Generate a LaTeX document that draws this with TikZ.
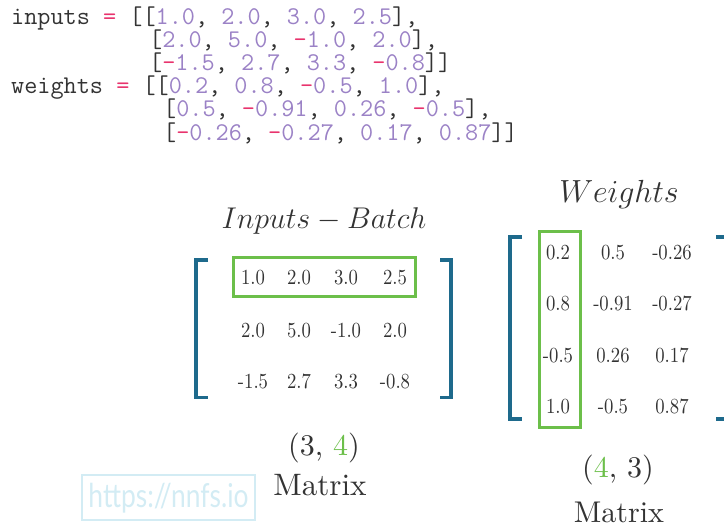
\documentclass[tikz,border=0pt]{standalone}
\usepackage{fix-cm}
\usepackage{fontspec}
\setmainfont{lmroman10-regular}[Extension=.otf, ItalicFont=lmroman10-italic]
\newfontfamily\wmfont{Lato}
\definecolor{codenum}{HTML}{9B82C6}
\definecolor{codepink}{HTML}{E8336D}
\definecolor{codetxt}{HTML}{333333}
\definecolor{mtxt}{HTML}{333333}
\definecolor{hlgreen}{HTML}{6CBF4A}
\definecolor{brblue}{HTML}{1E6A8C}
\definecolor{wmcyan}{HTML}{D3ECF4}
\newcommand\cN[1]{\textcolor{codenum}{#1}}
\newcommand\cP[1]{\textcolor{codepink}{#1}}
\newcommand\ent[1]{\scalebox{0.87}[1]{#1}}
\tikzset{
  codeline/.style={anchor=base west, inner sep=0pt, text=codetxt, font=\ttfamily\fontsize{25.5}{25.5}\selectfont},
  entry/.style={anchor=base, inner sep=0pt, text=mtxt, font=\fontsize{21.5}{21.5}\selectfont},
  label/.style={anchor=base, inner sep=0pt, text=mtxt, font=\fontsize{30}{30}\selectfont},
  bracket/.style={draw=brblue, line width=3.5pt},
  hlbox/.style={draw=hlgreen, line width=3pt},
}
\begin{document}
\begin{tikzpicture}[x=1pt,y=-1pt]
\useasboundingbox (0,0) rectangle (724,527);
\clip (0,0) rectangle (724,527);
% code
\node[codeline] (c1) at (11,25) {inputs \cP{=} [[\cN{1.0}, \cN{2.0}, \cN{3.0}, \cN{2.5}],};
\node[codeline] (c2) at (149,48) {[\cN{2.0}, \cN{5.0}, \cP{-}\cN{1.0}, \cN{2.0}],};
\node[codeline] (c3) at (149,71) {[\cP{-}\cN{1.5}, \cN{2.7}, \cN{3.3}, \cP{-}\cN{0.8}]]};
\node[codeline] (c4) at (11,94) {weights \cP{=} [[\cN{0.2}, \cN{0.8}, \cP{-}\cN{0.5}, \cN{1.0}],};
\node[codeline] (c5) at (163,117) {[\cN{0.5}, \cP{-}\cN{0.91}, \cN{0.26}, \cP{-}\cN{0.5}],};
\node[codeline] (c6) at (163,140) {[\cP{-}\cN{0.26}, \cP{-}\cN{0.27}, \cN{0.17}, \cN{0.87}]]};
% inputs matrix
\node[label] (ititle) at (324,228) {$Inputs - Batch$};
\node[entry] (i11) at (253,284) {\ent{1.0}};
\node[entry] (i12) at (299,284) {\ent{2.0}};
\node[entry] (i13) at (346,284) {\ent{3.0}};
\node[entry] (i14) at (395,284) {\ent{2.5}};
\node[entry] (i21) at (253,337) {\ent{2.0}};
\node[entry] (i22) at (299,337) {\ent{5.0}};
\node[entry] (i23) at (346,337) {\ent{-1.0}};
\node[entry] (i24) at (395,337) {\ent{2.0}};
\node[entry] (i31) at (253,388) {\ent{-1.5}};
\node[entry] (i32) at (299,388) {\ent{2.7}};
\node[entry] (i33) at (346,388) {\ent{3.3}};
\node[entry] (i34) at (395,388) {\ent{-0.8}};
\draw[hlbox] (233,257) rectangle (415,296.5);
\draw[bracket] (208,260) -- (196,260) -- (196,397.5) -- (208,397.5);
\draw[bracket] (440,260) -- (451,260) -- (451,397.5) -- (440,397.5);
\node[label] (ishape) at (324,455) {(3, \textcolor{hlgreen}{4})};
\node[label, font=\fontsize{31}{31}\selectfont] (imat) at (320,495) {Matrix};
% weights matrix
\node[label, font=\fontsize{32}{32}\selectfont] (wtitle) at (619,202) {$Weights$};
\node[entry] (w11) at (558,259) {\ent{0.2}};
\node[entry] (w12) at (613,259) {\ent{0.5}};
\node[entry] (w13) at (672,259) {\ent{-0.26}};
\node[entry] (w21) at (558,310) {\ent{0.8}};
\node[entry] (w22) at (613,310) {\ent{-0.91}};
\node[entry] (w23) at (672,310) {\ent{-0.27}};
\node[entry] (w31) at (558,362) {\ent{-0.5}};
\node[entry] (w32) at (613,362) {\ent{0.26}};
\node[entry] (w33) at (672,362) {\ent{0.17}};
\node[entry] (w41) at (558,413) {\ent{1.0}};
\node[entry] (w42) at (613,413) {\ent{-0.5}};
\node[entry] (w43) at (672,413) {\ent{0.87}};
\draw[hlbox] (539.5,231) rectangle (580,427);
\draw[bracket] (522,237) -- (510,237) -- (510,419) -- (522,419);
\draw[bracket] (716,237) -- (728,237) -- (728,419) -- (716,419);
\node[label] (wshape) at (618,477) {(\textcolor{hlgreen}{4}, 3)};
\node[label] (wmat) at (619,522) {Matrix};
% watermark
\node[draw=wmcyan, line width=1.5pt, minimum width=173pt, minimum height=45pt, inner sep=0pt] (wm) at (168.5,497.5) {};
\node[text=wmcyan, inner sep=0pt, font=\wmfont\fontsize{33}{33}\selectfont] (wmtext) at (168.5,498) {\scalebox{0.8}[1]{https://nnfs.io}};
\end{tikzpicture}
\end{document}
